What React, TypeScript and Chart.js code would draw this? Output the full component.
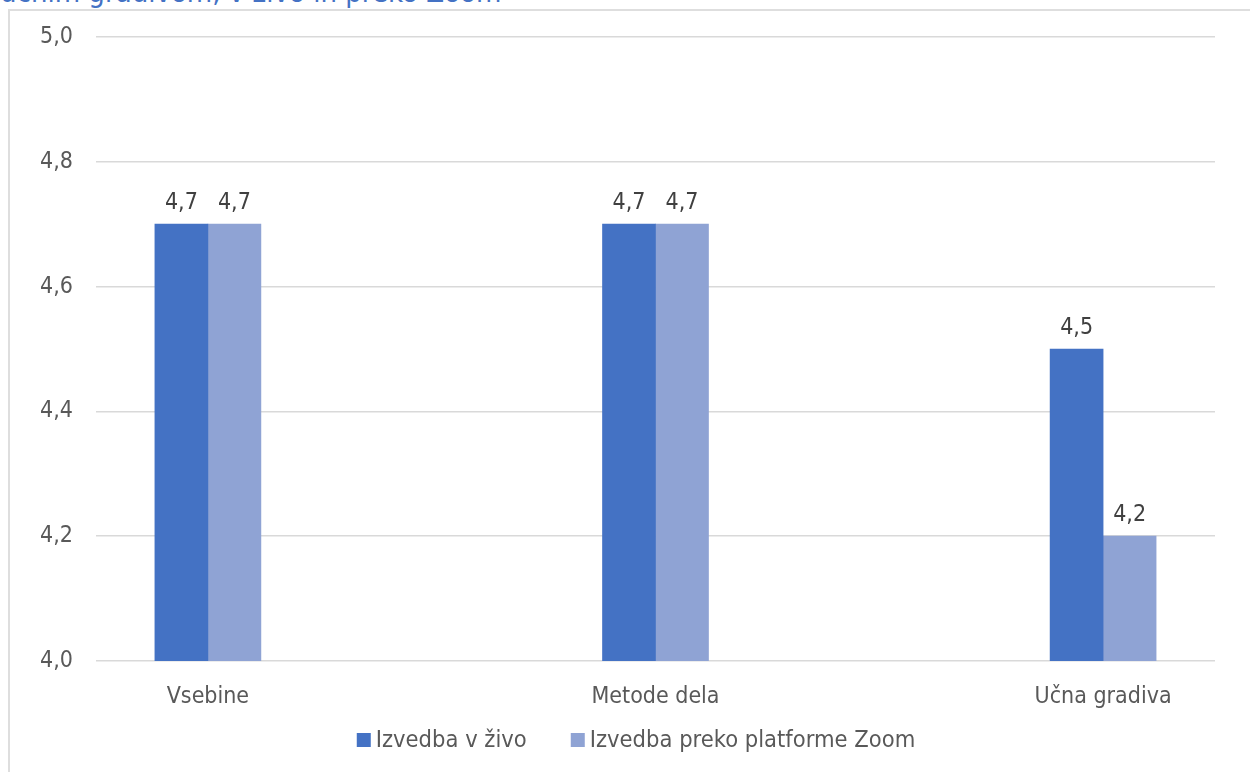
import React, { useEffect, useRef } from "react";
import { Chart, registerables } from "chart.js";

Chart.register(...registerables);

const titleText = "učnim gradivom, v živo in preko Zoom";
const categories = ["Vsebine", "Metode dela", "Učna gradiva"];
const seriesNames = ["Izvedba v živo", "Izvedba preko platforme Zoom"];
const liveValues = [4.7, 4.7, 4.5];
const zoomValues = [4.7, 4.7, 4.2];
const yTicks = [4.0, 4.2, 4.4, 4.6, 4.8, 5.0];
const seriesColors = ["#4472C4", "#8FA3D4"];

const FONT = '"DejaVu Sans Condensed", "Liberation Sans", Arial, sans-serif';
const fmt = (v: number) => v.toFixed(1).replace(".", ",");

export default function App() {
  const canvasRef = useRef<HTMLCanvasElement | null>(null);

  useEffect(() => {
    const canvas = canvasRef.current;
    if (!canvas) return;

    const dataLabels = {
      id: "dataLabels",
      afterDatasetsDraw(chart: any) {
        const ctx = chart.ctx;
        ctx.save();
        ctx.font = `23px ${FONT}`;
        ctx.fillStyle = "#404040";
        ctx.textAlign = "center";
        ctx.textBaseline = "alphabetic";
        chart.data.datasets.forEach((ds: any, di: number) => {
          const meta = chart.getDatasetMeta(di);
          meta.data.forEach((el: any, i: number) => {
            ctx.fillText(fmt(ds.data[i].y), el.x, el.y - 15);
          });
        });
        ctx.restore();
      },
    };

    const customLegend = {
      id: "customLegend",
      afterDraw(chart: any) {
        const ctx = chart.ctx;
        ctx.save();
        ctx.font = `23.5px ${FONT}`;
        ctx.textBaseline = "middle";
        ctx.textAlign = "left";
        const box = 14;
        const gapBoxText = 5;
        const gapItems = 44;
        const widths = seriesNames.map((n) => box + gapBoxText + ctx.measureText(n).width);
        const total = widths.reduce((a, b) => a + b, 0) + gapItems * (seriesNames.length - 1);
        let x = 636 - total / 2;
        const cy = 740;
        seriesNames.forEach((n, i) => {
          ctx.fillStyle = seriesColors[i];
          ctx.fillRect(x, cy - box / 2, box, box);
          ctx.fillStyle = "#595959";
          ctx.fillText(n, x + box + gapBoxText, cy + 1);
          x += widths[i] + gapItems;
        });
        ctx.restore();
      },
    };

    const chart = new Chart(canvas, {
      type: "bar",
      data: {
        datasets: [
          {
            label: seriesNames[0],
            data: categories.map((_, i) => ({ x: i, y: liveValues[i] })),
            backgroundColor: seriesColors[0],
            borderWidth: 0,
            barThickness: 53,
          },
          {
            label: seriesNames[1],
            data: categories.map((_, i) => ({ x: i, y: zoomValues[i] })),
            backgroundColor: seriesColors[1],
            borderWidth: 0,
            barThickness: 53,
          },
        ],
      },
      options: {
        responsive: false,
        animation: false,
        devicePixelRatio: 1,
        layout: { padding: { left: 0, right: 35, top: 37, bottom: 61 } },
        plugins: {
          legend: { display: false },
          tooltip: { enabled: false },
          title: { display: false },
        },
        scales: {
          x: {
            type: "linear",
            min: -0.25,
            max: 2.25,
            offset: false,
            grid: { display: false, offset: false },
            border: { display: false },
            afterBuildTicks: (scale: any) => {
              scale.ticks = categories.map((_, i) => ({ value: i }));
            },
            afterFit: (scale: any) => {
              scale.height = 50;
            },
            ticks: {
              autoSkip: false,
              maxRotation: 0,
              padding: 14,
              color: "#595959",
              font: { family: FONT, size: 23 },
              callback: (v: any) => categories[Math.round(Number(v))] ?? "",
            },
          },
          y: {
            min: 4.0,
            max: 5.0,
            grid: { color: "#d9d9d9", lineWidth: 1.5, drawTicks: false },
            border: { display: false },
            afterBuildTicks: (scale: any) => {
              scale.ticks = yTicks.map((v) => ({ value: v }));
            },
            afterFit: (scale: any) => {
              scale.width = 96;
            },
            ticks: {
              padding: 23,
              color: "#595959",
              font: { family: FONT, size: 23 },
              callback: (v: any) => fmt(Number(v)),
            },
          },
        },
      },
      plugins: [dataLabels, customLegend],
    } as any);

    return () => chart.destroy();
  }, []);

  return (
    <div
      style={{
        position: "fixed",
        left: 0,
        top: 0,
        width: 1250,
        height: 772,
        overflow: "hidden",
        background: "#ffffff",
      }}
    >
      <div
        style={{
          position: "absolute",
          left: 0,
          top: -22,
          whiteSpace: "nowrap",
          fontFamily: FONT,
          fontSize: 29,
          lineHeight: "29px",
          color: "#4472C4",
        }}
      >
        {titleText}
      </div>
      <div
        style={{
          position: "absolute",
          left: 8,
          top: 9,
          width: 1300,
          height: 800,
          border: "2px solid #dedede",
          boxSizing: "border-box",
        }}
      />
      <canvas
        ref={canvasRef}
        width={1250}
        height={772}
        style={{ position: "absolute", left: 0, top: 0, width: 1250, height: 772 }}
      />
    </div>
  );
}
